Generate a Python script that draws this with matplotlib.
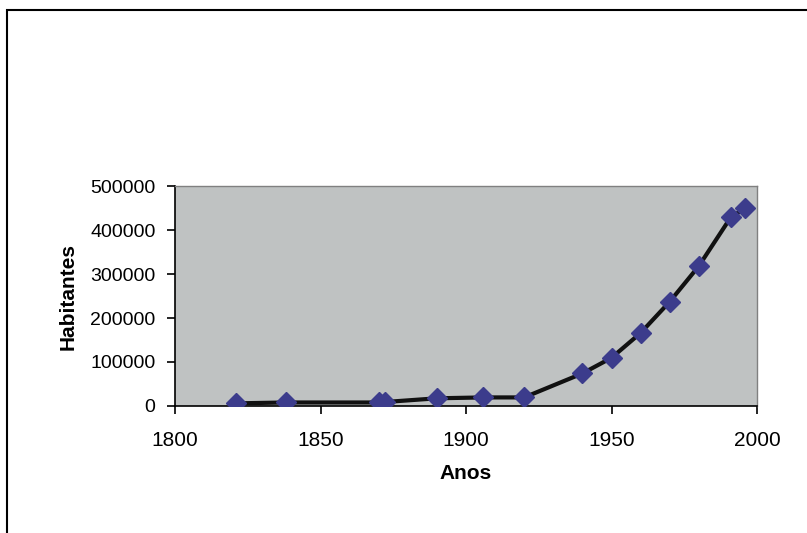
import matplotlib.pyplot as plt
from matplotlib.patches import Rectangle

plt.rcParams['font.family'] = ['Liberation Sans', 'DejaVu Sans']

# population data
anos = [1821, 1838, 1870, 1872, 1890, 1906, 1920, 1940, 1950, 1960, 1970, 1980, 1991, 1996]
habitantes = [6000, 8000, 8000, 9000, 17500, 19500, 19500, 74000, 109500, 166000, 237000, 318000, 429000, 449500]

fig = plt.figure(figsize=(8.07, 5.33), dpi=100)
ax = fig.add_axes([175 / 807, 1 - 406 / 533, 582 / 807, 220 / 533])

# outer chart frame
fig.patches.append(Rectangle((7 / 807, -0.01), 1.0, 1 - 10 / 533 + 0.01,
                             transform=fig.transFigure, fill=False,
                             edgecolor='black', linewidth=1.5))

ax.set_facecolor('#bfc2c2')
ax.plot(anos, habitantes, color='#111111', linewidth=3, marker='D',
        markersize=10, markerfacecolor='#3c3c8c', markeredgecolor='#3c3c8c',
        zorder=3)

ax.set_xlim(1800, 2000)
ax.set_ylim(0, 500000)
ax.set_xticks([1800, 1850, 1900, 1950, 2000])
ax.set_yticks([0, 100000, 200000, 300000, 400000, 500000])
ax.set_yticklabels(['0', '100000', '200000', '300000', '400000', '500000'])
ax.tick_params(axis='both', direction='out', length=6, width=1.2)
ax.tick_params(axis='x', labelsize=15, pad=12)
ax.tick_params(axis='y', labelsize=14, pad=8)

for s in ['left', 'bottom']:
    ax.spines[s].set_color('black')
    ax.spines[s].set_linewidth(1.2)
for s in ['top', 'right']:
    ax.spines[s].set_color('#808080')
    ax.spines[s].set_linewidth(1.0)

ax.set_xlabel('Anos', fontsize=15, fontweight='bold', labelpad=10)
ax.set_ylabel('Habitantes', fontsize=15, fontweight='bold', labelpad=9)

fig.savefig('out.png', dpi=100)
